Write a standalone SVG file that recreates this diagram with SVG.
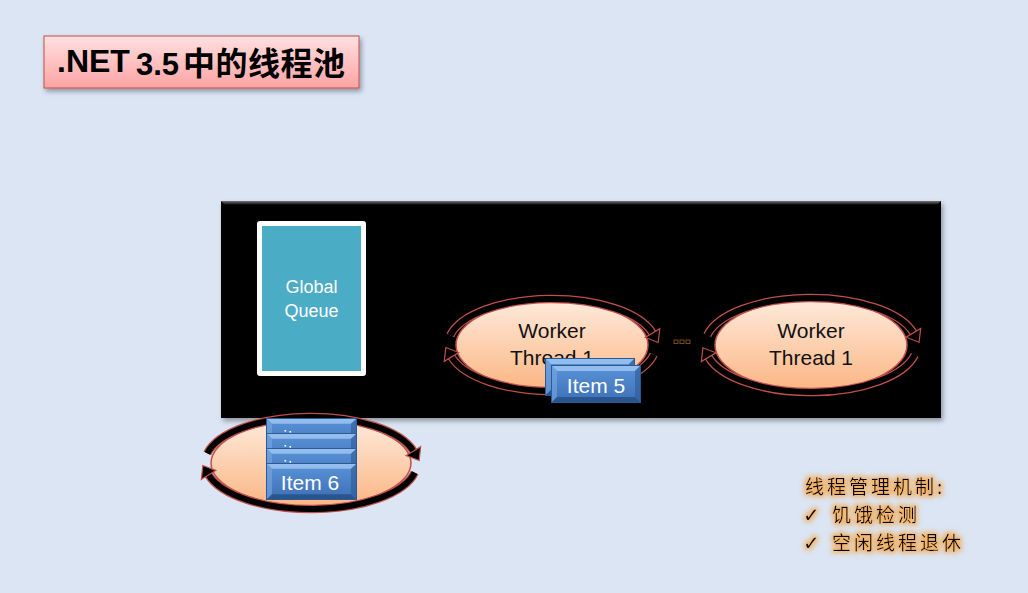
<svg xmlns="http://www.w3.org/2000/svg" xmlns:xlink="http://www.w3.org/1999/xlink" width="1028" height="593" viewBox="0 0 1028 593">
<defs>
<style>
.en{font-family:"Liberation Sans",Arial,sans-serif;}
.cjk{font-family:"Noto Sans CJK SC","Noto Sans CJK TC",sans-serif;}
.wt{font-family:"Liberation Sans",Arial,sans-serif;font-size:21px;fill:#111;text-anchor:middle;}
.it{font-family:"Liberation Sans",Arial,sans-serif;font-size:21px;fill:#fff;text-anchor:middle;}
.ell{stroke:#c0504d;stroke-width:1.5;}
.arcR{fill:none;stroke:#c0504d;stroke-width:8.5;}
.arcB{fill:none;stroke:#000;stroke-width:6;}
.note{font-family:"Noto Sans CJK SC","Noto Sans CJK JP",sans-serif;font-size:19px;fill:#000;letter-spacing:3px;}
.chk{font-family:"DejaVu Sans",sans-serif;font-size:20px;}
</style>
<linearGradient id="titleGrad" x1="0" y1="0" x2="0" y2="1">
<stop offset="0" stop-color="#ffe0e0"/>
<stop offset="1" stop-color="#fca3a3"/>
</linearGradient>
<linearGradient id="ellGrad" x1="0" y1="0" x2="0" y2="1">
<stop offset="0" stop-color="#feeadb"/>
<stop offset="1" stop-color="#fbb684"/>
</linearGradient>
<linearGradient id="itemGrad" x1="0" y1="0" x2="0" y2="1">
<stop offset="0" stop-color="#5a93d8"/>
<stop offset="1" stop-color="#3d70b6"/>
</linearGradient>
<linearGradient id="bevelGrad" x1="0" y1="0" x2="0" y2="1">
<stop offset="0" stop-color="#7a7a7a"/>
<stop offset="1" stop-color="#000"/>
</linearGradient>
<filter id="shadow" x="-5%" y="-10%" width="115%" height="130%">
<feDropShadow dx="2" dy="3" stdDeviation="2.5" flood-color="#000" flood-opacity="0.35"/>
</filter>
<filter id="glow" x="-10%" y="-40%" width="120%" height="180%">
<feMorphology in="SourceAlpha" operator="dilate" radius="1.5" result="d"/>
<feGaussianBlur in="d" stdDeviation="2.5" result="b"/>
<feFlood flood-color="#f5a94f" flood-opacity="0.85"/>
<feComposite in2="b" operator="in" result="g"/>
<feMerge><feMergeNode in="g"/><feMergeNode in="SourceGraphic"/></feMerge>
</filter>
<marker id="head" markerUnits="userSpaceOnUse" viewBox="-1 -10 14 20" markerWidth="14" markerHeight="20" refX="0" refY="0" orient="auto" overflow="visible">
<path d="M0,-8.5 L11,0 L0,8.5 Z" fill="#000" stroke="#c0504d" stroke-width="1.2"/>
</marker>
<symbol id="item" viewBox="0 0 90 38" preserveAspectRatio="none">
<rect x="0.5" y="0.5" width="89" height="37" fill="url(#itemGrad)" stroke="#2c5a94" stroke-width="1"/>
<polygon points="1,1 89,1 84,6 6,6" fill="#a8ccf4" opacity="0.75"/>
<polygon points="1,1 6,6 6,32 1,37" fill="#78a8e2" opacity="0.6"/>
<polygon points="89,1 89,37 84,32 84,6" fill="#2c5a96" opacity="0.6"/>
<polygon points="1,37 89,37 84,32 6,32" fill="#234b80" opacity="0.75"/>
</symbol>
</defs>

<rect x="0" y="0" width="1028" height="593" fill="#dbe5f4"/>

<g id="title">
<rect x="44" y="36" width="315" height="52" fill="url(#titleGrad)" stroke="#c0504d" stroke-width="1" filter="url(#shadow)"/>
<text y="72" font-weight="bold"><tspan class="en" x="57" font-size="32">.NET</tspan><tspan class="en" x="136" y="75" font-size="31">3.5</tspan><tspan class="cjk" x="183" y="75" font-size="32" letter-spacing="0.5">中的线程池</tspan></text>
</g>

<g id="thread-pool" filter="url(#shadow)">
<rect x="221" y="201" width="720" height="217" fill="#000"/>
<polygon points="221,201 941,201 937,205 225,205" fill="url(#bevelGrad)"/>
</g>

<g id="global-queue">
<rect x="257" y="221" width="109" height="155" rx="3" fill="#fff"/>
<rect x="262" y="226" width="99" height="145" fill="#4bacc6"/>
<text class="en" x="311.5" y="293" font-size="18" fill="#fff" text-anchor="middle">Global</text>
<text class="en" x="311.5" y="317" font-size="18" fill="#fff" text-anchor="middle">Queue</text>
</g>

<g id="worker-thread-a">
<ellipse class="ell" cx="552" cy="345" rx="96" ry="44" fill="url(#ellGrad)"/>
<text class="wt" x="552" y="338">Worker</text>
<text class="wt" x="552" y="365">Thread 1</text>
</g>

<g id="ellipsis">
<rect x="674" y="340" width="4" height="3.5" fill="none" stroke="#7a4a20" stroke-width="1"/>
<rect x="680" y="340" width="4" height="3.5" fill="none" stroke="#7a4a20" stroke-width="1"/>
<rect x="686" y="340" width="4" height="3.5" fill="none" stroke="#7a4a20" stroke-width="1"/>
</g>

<g id="worker-thread-b">
<ellipse class="ell" cx="811" cy="345" rx="96" ry="45" fill="url(#ellGrad)"/>
<text class="wt" x="811" y="338">Worker</text>
<text class="wt" x="811" y="365">Thread 1</text>
</g>

<g id="local-queue">
<ellipse class="ell" cx="311" cy="463" rx="100" ry="43" fill="url(#ellGrad)"/>
</g>

<g id="connectors">
<path class="arcR" d="M450.3,335.4 A104,46 0 0 1 652.5,333.1"/>
<path class="arcB" d="M450.3,335.4 A104,46 0 0 1 652.5,333.1" marker-end="url(#head)"/>
<path class="arcR" d="M653.7,354.6 A104,46 0 0 1 451.5,356.9"/>
<path class="arcB" d="M653.7,354.6 A104,46 0 0 1 451.5,356.9" marker-end="url(#head)"/>

<path class="arcR" d="M707.3,335.2 A106,47 0 0 1 913.4,332.8"/>
<path class="arcB" d="M707.3,335.2 A106,47 0 0 1 913.4,332.8" marker-end="url(#head)"/>
<path class="arcR" d="M914.7,354.8 A106,47 0 0 1 708.6,357.2"/>
<path class="arcB" d="M914.7,354.8 A106,47 0 0 1 708.6,357.2" marker-end="url(#head)"/>

<path class="arcR" d="M207.3,453.4 A106,46 0 0 1 413.4,451.1"/>
<path class="arcB" d="M207.3,453.4 A106,46 0 0 1 413.4,451.1" marker-end="url(#head)"/>
<path class="arcR" d="M414.7,472.6 A106,46 0 0 1 208.6,474.9"/>
<path class="arcB" d="M414.7,472.6 A106,46 0 0 1 208.6,474.9" marker-end="url(#head)"/>
</g>

<g id="item-5">
<use xlink:href="#item" href="#item" x="545" y="358" width="90" height="38"/>
<use xlink:href="#item" href="#item" x="551" y="365" width="90" height="38"/>
<text class="it" x="596" y="392.5">Item 5</text>
</g>

<g id="item-6">
<use xlink:href="#item" href="#item" x="266" y="418" width="91" height="37"/>
<rect x="284.5" y="430" width="1.6" height="1.6" fill="#fff"/>
<rect x="289.5" y="431" width="1.6" height="1.6" fill="#fff"/>
<use xlink:href="#item" href="#item" x="266" y="433" width="91" height="37"/>
<rect x="284.5" y="445" width="1.6" height="1.6" fill="#fff"/>
<rect x="289.5" y="446" width="1.6" height="1.6" fill="#fff"/>
<use xlink:href="#item" href="#item" x="266" y="448" width="91" height="37"/>
<rect x="284.5" y="460" width="1.6" height="1.6" fill="#fff"/>
<rect x="289.5" y="461" width="1.6" height="1.6" fill="#fff"/>
<use xlink:href="#item" href="#item" x="266" y="463" width="91" height="37"/>
<text class="it" x="310" y="490" font-size="20">Item 6</text>
</g>

<g id="notes" filter="url(#glow)">
<text class="note" x="805" y="494">线程管理机制:</text>
<text class="note" y="522"><tspan class="chk" x="803">✓</tspan><tspan x="832">饥饿检测</tspan></text>
<text class="note" y="550"><tspan class="chk" x="803">✓</tspan><tspan x="832">空闲线程退休</tspan></text>
</g>
</svg>
